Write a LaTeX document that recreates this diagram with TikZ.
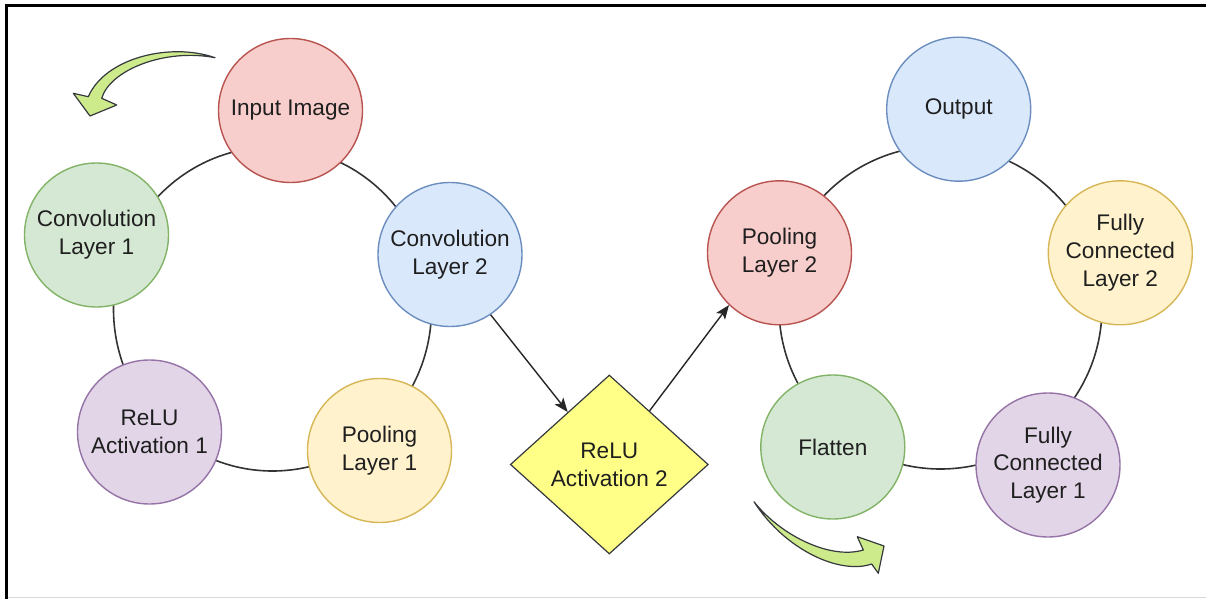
\documentclass[tikz,border=0pt]{standalone}
\usepackage{fontspec}
\setmainfont{Liberation Sans}
\usetikzlibrary{shapes.geometric,arrows.meta}

% draw.io style palette
\definecolor{redfill}{HTML}{F8CECC}    \definecolor{redline}{HTML}{B85450}
\definecolor{greenfill}{HTML}{D5E8D4}  \definecolor{greenline}{HTML}{82B366}
\definecolor{bluefill}{HTML}{DAE8FC}   \definecolor{blueline}{HTML}{6C8EBF}
\definecolor{purplefill}{HTML}{E1D5E7} \definecolor{purpleline}{HTML}{9673A6}
\definecolor{yellowfill}{HTML}{FFF2CC} \definecolor{yellowline}{HTML}{D6B656}
\definecolor{notefill}{HTML}{FFFF88}   \definecolor{noteline}{HTML}{36393D}
\definecolor{turnfill}{HTML}{CDEB8B}

\begin{document}
\begin{tikzpicture}[x=0.5pt,y=-0.5pt,
  layer/.style={circle, minimum size=72pt, inner sep=0pt, line width=0.7pt,
    align=center, text=black!88, font=\fontsize{11.3}{13.9}\selectfont},
  redc/.style={layer, fill=redfill, draw=redline},
  greenc/.style={layer, fill=greenfill, draw=greenline},
  bluec/.style={layer, fill=bluefill, draw=blueline},
  purplec/.style={layer, fill=purplefill, draw=purpleline},
  yellowc/.style={layer, fill=yellowfill, draw=yellowline},
  decision/.style={diamond, minimum width=99pt, minimum height=89.5pt, inner sep=0pt,
    fill=notefill, draw=noteline, line width=0.6pt, align=center, text=black!88,
    font=\fontsize{11.3}{13.9}\selectfont},
  ring/.style={draw=black!80, line width=0.8pt},
  flow/.style={draw=black!85, line width=0.7pt, -{Stealth[length=7pt,width=5.5pt,inset=1.6pt]}},
  turn/.style={fill=turnfill, draw=noteline, line width=0.6pt, line join=round},
  frameline/.style={draw=black, line width=1.3pt}
]
\useasboundingbox (0,0) rectangle (1206,599);

% frame
\draw[frameline] (6.5,599) -- (6.5,5.5) -- (1206,5.5);
\draw[black!15, line width=0.8pt] (8,597.5) -- (1206,597.5);

% rings behind the layer circles
\coordinate (ringL) at (272.5,309);
\coordinate (ringR) at (940.5,307.5);
\draw[ring] (ringL) ellipse[x radius=159, y radius=162];
\draw[ring] (ringR) circle[radius=161.5];

% first cycle
\node[redc]    (input) at (290.5,110.5) {Input Image};
\node[greenc]  (conv1) at (96.5,235)    {Convolution\\Layer 1};
\node[bluec]   (conv2) at (450,254.5)   {Convolution\\Layer 2};
\node[purplec] (relu1) at (149.5,432)   {ReLU\\Activation 1};
\node[yellowc] (pool1) at (379.5,450.5) {Pooling\\Layer 1};

% activation between the cycles
\node[decision] (relu2) at (609.3,464.5) {ReLU\\Activation 2};

% second cycle
\node[bluec]   (output) at (958.7,109.2)  {Output};
\node[yellowc] (fc2)    at (1120.3,252.8) {Fully\\Connected\\Layer 2};
\node[redc]    (pool2)  at (779.5,252.8)  {Pooling\\Layer 2};
\node[greenc]  (flat)   at (832.8,447)    {Flatten};
\node[purplec] (fc1)    at (1048,465)     {Fully\\Connected\\Layer 1};

% connectors
\draw[flow] (conv2.-56) -- (relu2);
\draw[flow] (relu2) -- (pool2.-134);

% curved direction arrows
\draw[turn] (215,57.7) .. controls (170,42) and (105,58) .. (88.3,96.7)
  -- (73.3,93.3) -- (90,116) -- (116.7,105) -- (101.7,98.3)
  .. controls (110,70) and (165,48) .. cycle;
\draw[turn] (754,501.7) .. controls (785,550) and (840,575) .. (871.7,564)
  -- (878.3,573.3) -- (884,546) -- (857.3,536.7) -- (863.3,550)
  .. controls (830,560) and (780,535) .. cycle;
\end{tikzpicture}
\end{document}
